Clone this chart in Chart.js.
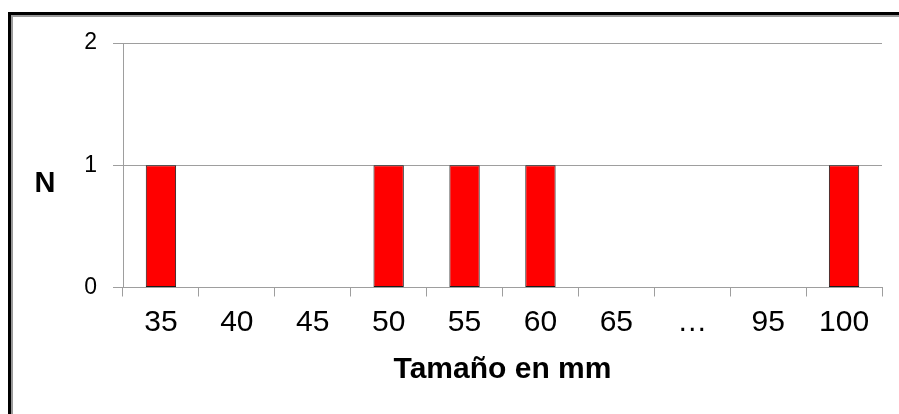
<!DOCTYPE html>
<html>
<head>
<meta charset="utf-8">
<script src="https://cdn.jsdelivr.net/npm/chart.js@4.4.1/dist/chart.umd.min.js"></script>
<style>
  html, body { margin: 0; padding: 0; background: #fff; width: 899px; height: 414px; overflow: hidden; }
  #frame { position: absolute; left: 8px; top: 12px; width: 1000px; height: 1000px;
           border-top: 3px solid #000; border-left: 3px solid #000; }
  #frame2 { position: absolute; left: 0; top: 0; width: 100%; height: 100%;
            border-top: 2px solid #9a9a9a; border-left: 2px solid #9a9a9a; }
  #c { position: absolute; left: 0; top: 0; }
</style>
</head>
<body>
<div id="frame"><div id="frame2"></div></div>
<canvas id="c" width="899" height="414"></canvas>
<script>
const categories = ['35', '40', '45', '50', '55', '60', '65', '…', '95', '100'];
const counts = [1, 0, 0, 1, 1, 1, 0, 0, 0, 1];
const yTicks = [0, 1, 2];
const xTitle = 'Tamaño en mm';
const yTitle = 'N';

const FONT = "'Liberation Sans', Arial, sans-serif";
const GRID = '#9e9e9e';

const yTitlePlugin = {
  id: 'yTitle',
  afterDraw(chart) {
    const ctx = chart.ctx;
    ctx.save();
    ctx.font = 'bold 29px ' + FONT;
    ctx.fillStyle = '#000';
    ctx.textAlign = 'center';
    ctx.textBaseline = 'alphabetic';
    ctx.fillText(yTitle, 45, 192);
    ctx.restore();
  }
};

new Chart(document.getElementById('c'), {
  type: 'bar',
  data: {
    labels: categories,
    datasets: [{
      data: counts,
      backgroundColor: '#ff0000',
      borderColor: '#1a1a1a',
      borderWidth: 1,
      borderSkipped: false,
      categoryPercentage: 1.0,
      barPercentage: 0.4
    }]
  },
  options: {
    responsive: false,
    animation: false,
    devicePixelRatio: 1,
    layout: { padding: { left: 0, top: 43, right: 17, bottom: 0 } },
    plugins: { legend: { display: false }, tooltip: { enabled: false } },
    scales: {
      x: {
        afterFit(scale) { scale.height = 126.5; },
        grid: { offset: true, drawOnChartArea: false, tickLength: 9, color: GRID, lineWidth: 1 },
        border: { display: true, color: GRID, width: 1 },
        ticks: { font: { family: FONT, size: 30 }, color: '#000', padding: 8, maxRotation: 0, autoSkip: false },
        title: { display: true, text: xTitle, font: { family: FONT, size: 30, weight: 'bold' }, color: '#000', padding: { top: 0, bottom: 26 } }
      },
      y: {
        min: 0, max: 2,
        afterFit(scale) { scale.width = 123; },
        afterBuildTicks(scale) { scale.ticks = yTicks.map(v => ({ value: v })); },
        grid: { drawOnChartArea: true, tickLength: 10, color: GRID, lineWidth: 1 },
        border: { display: true, color: GRID, width: 1 },
        ticks: { font: { family: FONT, size: 23 }, color: '#000', padding: 16, stepSize: 1 }
      }
    }
  },
  plugins: [yTitlePlugin]
});
</script>
</body>
</html>
